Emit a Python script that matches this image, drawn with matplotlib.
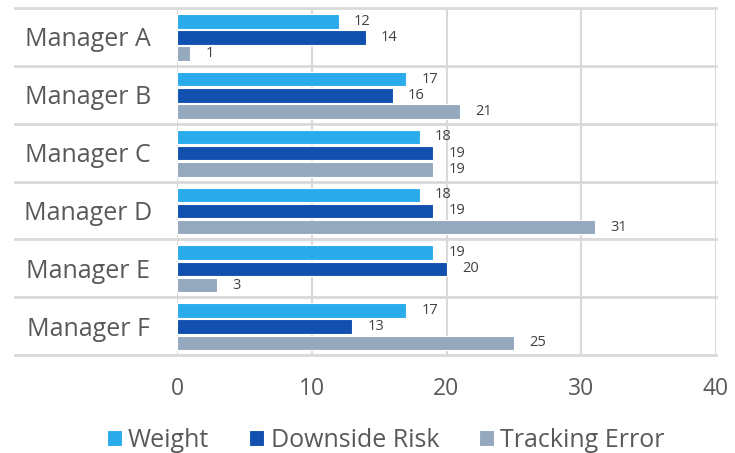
import matplotlib
matplotlib.use("Agg")
import matplotlib.pyplot as plt
import numpy as np

plt.rcParams["font.family"] = ["Open Sans", "DejaVu Sans"]

managers = ["Manager A", "Manager B", "Manager C", "Manager D", "Manager E", "Manager F"]
weight = [12, 17, 18, 18, 19, 17]
downside_risk = [14, 16, 19, 19, 20, 13]
tracking_error = [1, 21, 19, 31, 3, 25]

series = [
    ("Weight", weight, "#29ABEC"),
    ("Downside Risk", downside_risk, "#1150AE"),
    ("Tracking Error", tracking_error, "#94A8BE"),
]

fig = plt.figure(figsize=(7.35, 4.53), dpi=100)
ax = fig.add_axes([177 / 735, 1 - 355 / 453, (716 - 177) / 735, (355 - 8) / 453])

y = np.arange(len(managers))
bar_h = 0.25
offsets = [-0.27, 0.01, 0.29]

for (name, vals, color), off in zip(series, offsets):
    bars = ax.barh(y + off, vals, height=bar_h, color=color, edgecolor="white",
                   linewidth=0.8, label=name, zorder=3)
    for b, v in zip(bars, vals):
        ax.annotate(str(v), (b.get_width(), b.get_y() + b.get_height() / 2),
                    xytext=(11, 0), textcoords="offset points",
                    ha="left", va="center", fontsize=10.5, color="#404040")

ax.set_xlim(0, 40)
ax.set_ylim(len(managers) - 0.5, -0.5)
ax.set_xticks([0, 10, 20, 30, 40])
ax.set_yticks(y)
ax.set_yticklabels(managers, ha="center")

for s in ax.spines.values():
    s.set_visible(False)

grid_c = "#D9D9D9"
for xv in [0, 10, 20, 30, 40]:
    ax.axvline(xv, color=grid_c, lw=1.5, zorder=1)
for yb in np.arange(-0.5, len(managers), 1.0):
    ax.axhline(yb, xmin=-0.30, xmax=1.0, color=grid_c, lw=2, zorder=1, clip_on=False)

ax.tick_params(axis="both", length=0, colors="#595959")
ax.tick_params(axis="x", labelsize=16.5, pad=16)
ax.tick_params(axis="y", labelsize=18, pad=64)

fig.legend(loc="lower center", ncol=3, frameon=False, fontsize=18,
           handlelength=0.6, handleheight=0.6, handletextpad=0.25, columnspacing=1.6,
           bbox_to_anchor=(0.525, -0.05), labelcolor="#595959")

fig.savefig("out.png", dpi=100)
